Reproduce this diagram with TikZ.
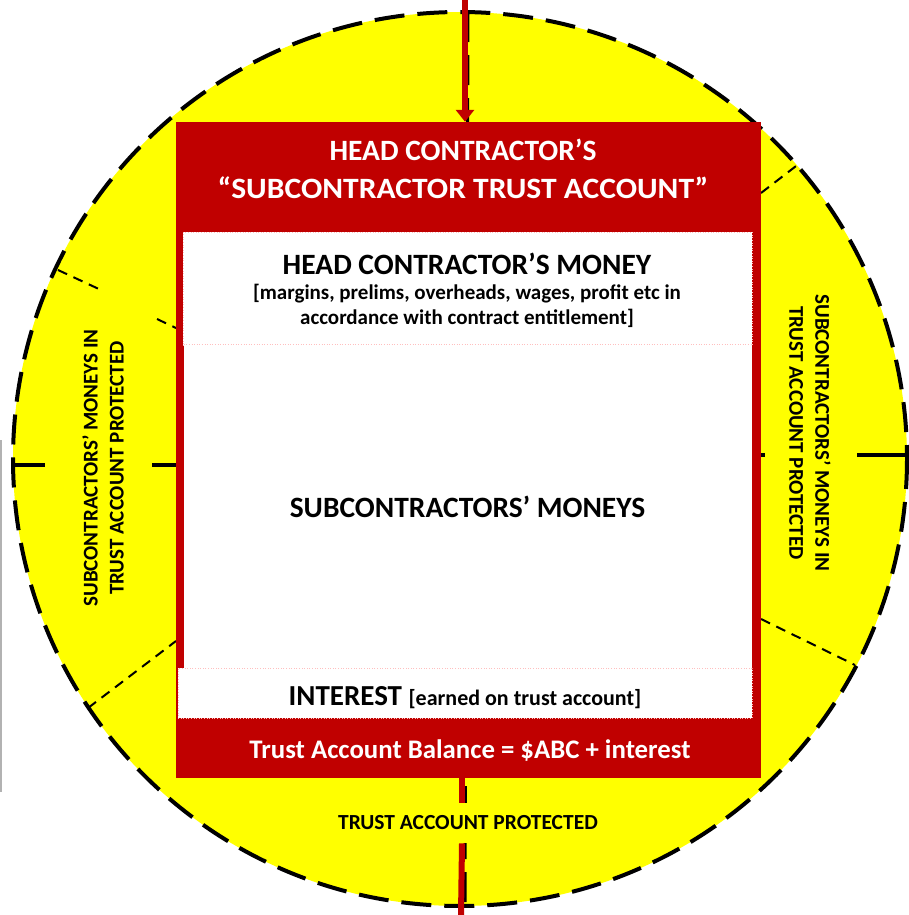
\documentclass[tikz,border=0pt]{standalone}
\usepackage{fontspec}
\setmainfont{Carlito}
\usetikzlibrary{arrows.meta}
\definecolor{trustred}{HTML}{C00000}
\definecolor{circyellow}{HTML}{FFFF00}
\begin{document}
\begin{tikzpicture}[x=1pt,y=-1pt,
  thickdash/.style={black, line width=4, dash pattern=on 30 off 13},
  thindash/.style={black, line width=2, dash pattern=on 10 off 7},
  tickline/.style={black, line width=4},
  whitebox/.style={fill=white, draw=red!25, line width=0.6, dotted, inner sep=0},
  hdrtxt/.style={text=white, font=\bfseries\fontsize{29.5}{38}\selectfont, align=center},
  titletxt/.style={font=\bfseries\fontsize{29.5}{34}\selectfont},
  subtxt/.style={font=\bfseries\fontsize{21}{25}\selectfont, align=center},
  sidetxt/.style={font=\bfseries\fontsize{21}{26}\selectfont, align=center},
  baltxt/.style={text=white, font=\bfseries\fontsize{26.8}{30}\selectfont}]
\useasboundingbox (0,0) rectangle (909,915);
\fill[white] (0,0) rectangle (909,915);
\draw[gray!60, line width=1.5] (1,440) -- (1,792);
% yellow disc
\fill[circyellow] (460,459) circle[radius=447];
% thin dashed radial lines
\draw[thindash] (58,270) -- (101,290);
\draw[thindash] (157,319) -- (176,328);
\draw[thindash] (88,708) -- (176,641);
\draw[thindash] (761,193) -- (800,163);
\draw[thindash] (761,619) -- (855,665);
% horizontal diameter marks
\draw[tickline] (13,465) -- (45,465);
\draw[tickline] (152,465) -- (176,465);
\draw[tickline] (761,455) -- (765,455);
\draw[tickline] (857,455) -- (909,455);
% vertical diameter dashed
\draw[thickdash, line width=3] (468,12) -- (465,906);
% circle border
\draw[thickdash] (460,459) circle[radius=447];
% account rectangle
\node[fill=trustred, minimum width=585, minimum height=656, inner sep=0] (acct) at (468.5,450) {};
\node[whitebox, minimum width=569, minimum height=113] (moneybox) at (467.5,288.5) {};
\node[whitebox, draw=none, minimum width=568, minimum height=323] (subsbox) at (468,506.5) {};
\draw[red!25, line width=0.6, dotted] (subsbox.north west) -- (subsbox.north east);
\node[whitebox, minimum width=574, minimum height=50] (intbox) at (465,693) {};
% texts
\node[hdrtxt] (hdr) at (463,169) {HEAD CONTRACTOR’S\\\scalebox{1.07}[1]{“SUBCONTRACTOR TRUST ACCOUNT”}};
\node[titletxt] (money) at (467,264) {HEAD CONTRACTOR’S MONEY};
\node[subtxt] (moneysub) at (467,306) {[margins, prelims, overheads, wages, profit etc in\\accordance with contract entitlement]};
\node[titletxt] (subs) at (467.5,507) {SUBCONTRACTORS’ MONEYS};
\node (interest) at (465,698) {\bfseries\fontsize{29}{32}\selectfont INTEREST \fontsize{22}{24}\selectfont[earned on trust account]};
\node[baltxt] (balance) at (470,751) {Trust Account Balance = \$ABC + interest};
\node[sidetxt, fill=circyellow, inner xsep=4, inner ysep=13, font=\bfseries\fontsize{21.5}{22}\selectfont] (bottomlbl) at (468,823) {TRUST ACCOUNT PROTECTED};
\node[sidetxt, rotate=90] (leftlbl) at (103,468) {SUBCONTRACTORS’ MONEYS IN\\TRUST ACCOUNT PROTECTED};
\node[sidetxt, rotate=-90] (rightlbl) at (810,433) {SUBCONTRACTORS’ MONEYS IN\\TRUST ACCOUNT PROTECTED};
% red flow line
\coordinate (topin) at (465,0);
\coordinate (botout) at (461,915);
\draw[trustred, line width=6, -{Triangle[width=18pt,length=12pt]}] (topin) -- (topin |- acct.north);
\draw[trustred, line width=6] (bottomlbl.north -| 462,0) -- (acct.south -| 462,0);
\draw[trustred, line width=6] (bottomlbl.south -| 462,0) -- (botout);
\end{tikzpicture}
\end{document}
